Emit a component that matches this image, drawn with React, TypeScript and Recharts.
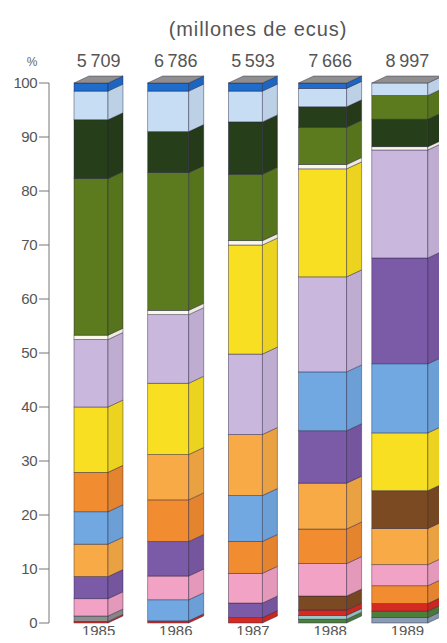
import { BarChart, Bar, XAxis, YAxis } from 'recharts';

const years = ['1985', '1986', '1987', '1988', '1989'];
const totals = [5709, 6786, 5593, 7666, 8997];
const yTicks = [0, 10, 20, 30, 40, 50, 60, 70, 80, 90, 100];

// each column from bottom to top: product group and its share (%)
const groups1985 = ['red', 'gray', 'pink', 'purple', 'ltOrange', 'midBlue', 'dkOrange', 'yellow', 'lavender', 'white', 'olive', 'dkGreen', 'ltBlue', 'dkBlue'];
const shares1985 = [0.3, 1.0, 3.2, 4.1, 6.0, 6.0, 7.3, 12.1, 12.5, 0.8, 29.0, 10.9, 5.3, 1.5];

const groups1986 = ['red', 'midBlue', 'pink', 'purple', 'dkOrange', 'ltOrange', 'yellow', 'lavender', 'white', 'olive', 'dkGreen', 'ltBlue', 'dkBlue'];
const shares1986 = [0.4, 3.9, 4.4, 6.4, 7.7, 8.4, 13.2, 12.7, 0.8, 25.5, 7.6, 7.5, 1.5];

const groups1987 = ['red', 'purple', 'pink', 'dkOrange', 'midBlue', 'ltOrange', 'lavender', 'yellow', 'white', 'olive', 'dkGreen', 'ltBlue', 'dkBlue'];
const shares1987 = [1.0, 2.7, 5.5, 5.9, 8.5, 11.3, 14.9, 20.2, 0.8, 12.3, 9.7, 5.7, 1.5];

const groups1988 = ['green', 'teal', 'red', 'brown', 'pink', 'dkOrange', 'ltOrange', 'purple', 'midBlue', 'lavender', 'yellow', 'white', 'olive', 'dkGreen', 'ltBlue', 'dkBlue'];
const shares1988 = [0.7, 0.7, 1.0, 2.6, 6.0, 6.4, 8.5, 9.7, 10.9, 17.6, 20.0, 0.8, 6.9, 3.8, 3.4, 1.0];

const groups1989 = ['slate', 'green', 'red', 'dkOrange', 'pink', 'ltOrange', 'brown', 'yellow', 'midBlue', 'purple', 'lavender', 'white', 'dkGreen', 'olive', 'ltBlue'];
const shares1989 = [1.0, 1.2, 1.4, 3.3, 3.9, 6.7, 7.0, 10.7, 12.8, 19.6, 20.0, 0.6, 5.1, 4.4, 2.3];

const allGroups = [groups1985, groups1986, groups1987, groups1988, groups1989];
const allShares = [shares1985, shares1986, shares1987, shares1988, shares1989];

const COLORS: Record<string, string> = {
  red: '#d42a22',
  gray: '#8e8e8e',
  pink: '#f2a2c4',
  purple: '#7b5aa7',
  ltOrange: '#f7aa46',
  dkOrange: '#f18c31',
  midBlue: '#71a8e1',
  yellow: '#f9df22',
  lavender: '#cab7dd',
  white: '#fbf8ea',
  olive: '#5b7b1e',
  dkGreen: '#263e1a',
  ltBlue: '#c7ddf3',
  dkBlue: '#1e6ccc',
  brown: '#7b4a23',
  teal: '#98c9c6',
  green: '#4d7e3c',
  slate: '#8a9cb2',
};

const MAX_SEG = Math.max(...allGroups.map(g => g.length));
const positions = Array.from({ length: MAX_SEG }, (_, i) => i);

const data = years.map((year, i) => {
  const row: any = { year, total: totals[i], top: allGroups[i].length - 1 };
  allGroups[i].forEach((g, j) => {
    row[`g${j}`] = g;
    row[`s${j}`] = allShares[i][j];
  });
  return row;
});

// drawing of the fake 3d columns
const FRONT_W = [34, 41, 34, 48, 56];
const DEPTH = 15;
const RISE = 7;
const EDGE = 'rgba(35,30,60,0.6)';

function makeShape(pos: number) {
  return (props: any) => {
    const { x, y, width, height, payload } = props;
    const key = payload[`g${pos}`];
    if (!key || !(height > 0)) return null;
    const fw = FRONT_W[years.indexOf(payload.year)];
    const x0 = x + width / 2 - (fw + DEPTH) / 2;
    const x1 = x0 + fw;
    const c = COLORS[key];
    const side = `${x1},${y} ${x1 + DEPTH},${y - RISE} ${x1 + DEPTH},${y + height - RISE} ${x1},${y + height}`;
    return (
      <g>
        <rect x={x0} y={y} width={fw} height={height} fill={c} stroke={EDGE} strokeWidth={0.7} />
        <polygon points={side} fill={c} stroke={EDGE} strokeWidth={0.7} />
        <polygon points={side} fill="#000" fillOpacity={0.05} />
        {payload.top === pos && (
          <polygon
            points={`${x0},${y} ${x0 + DEPTH},${y - RISE} ${x1 + DEPTH},${y - RISE} ${x1},${y}`}
            fill="#8f8f8f"
            stroke={EDGE}
            strokeWidth={0.7}
          />
        )}
      </g>
    );
  };
}

const fmtTotal = (v: number) => `${Math.floor(v / 1000)}\u2009${String(v % 1000).padStart(3, '0')}`;

export default function App() {
  return (
    <div style={{ position: 'relative', width: 447, height: 643, overflow: 'hidden', margin: -8, background: '#fff', fontFamily: '"Liberation Sans", Arial, sans-serif' }}>
      <div style={{ position: 'absolute', left: 158, top: 18, width: 200, textAlign: 'center', fontSize: 20, lineHeight: '22px', letterSpacing: 0.9, color: '#555' }}>
        (millones de ecus)
      </div>
      <div style={{ position: 'absolute', left: 22, top: 55, width: 20, textAlign: 'center', fontSize: 12, lineHeight: '14px', color: '#666' }}>
        %
      </div>
      <div style={{ position: 'absolute', left: 0, top: 0 }}>
        <BarChart width={447} height={643} data={data} barCategoryGap={0} margin={{ top: 53, right: 1, bottom: 0, left: 0 }}>
          <XAxis
            xAxisId="top"
            orientation="top"
            dataKey="total"
            height={30}
            axisLine={false}
            tickLine={false}
            tickMargin={10}
            padding={{ left: 11, right: 0 }}
            tickFormatter={fmtTotal}
            tick={{ fontSize: 18, fill: '#555' }}
            interval={0}
          />
          <XAxis
            dataKey="year"
            height={20}
            axisLine={false}
            tickLine={false}
            tickSize={0}
            tickMargin={2}
            padding={{ left: 11, right: 0 }}
            tick={{ fontSize: 15, fill: '#555' }}
            interval={0}
          />
          <YAxis
            domain={[0, 100]}
            ticks={yTicks}
            interval={0}
            width={49}
            tickSize={10}
            tickMargin={2}
            axisLine={{ stroke: '#777' }}
            tickLine={{ stroke: '#777' }}
            tick={{ fontSize: 15, fill: '#555', letterSpacing: -0.5 }}
          />
          {positions.map(p => (
            <Bar key={p} dataKey={`s${p}`} stackId="a" isAnimationActive={false} shape={makeShape(p)} />
          ))}
        </BarChart>
      </div>
    </div>
  );
}
